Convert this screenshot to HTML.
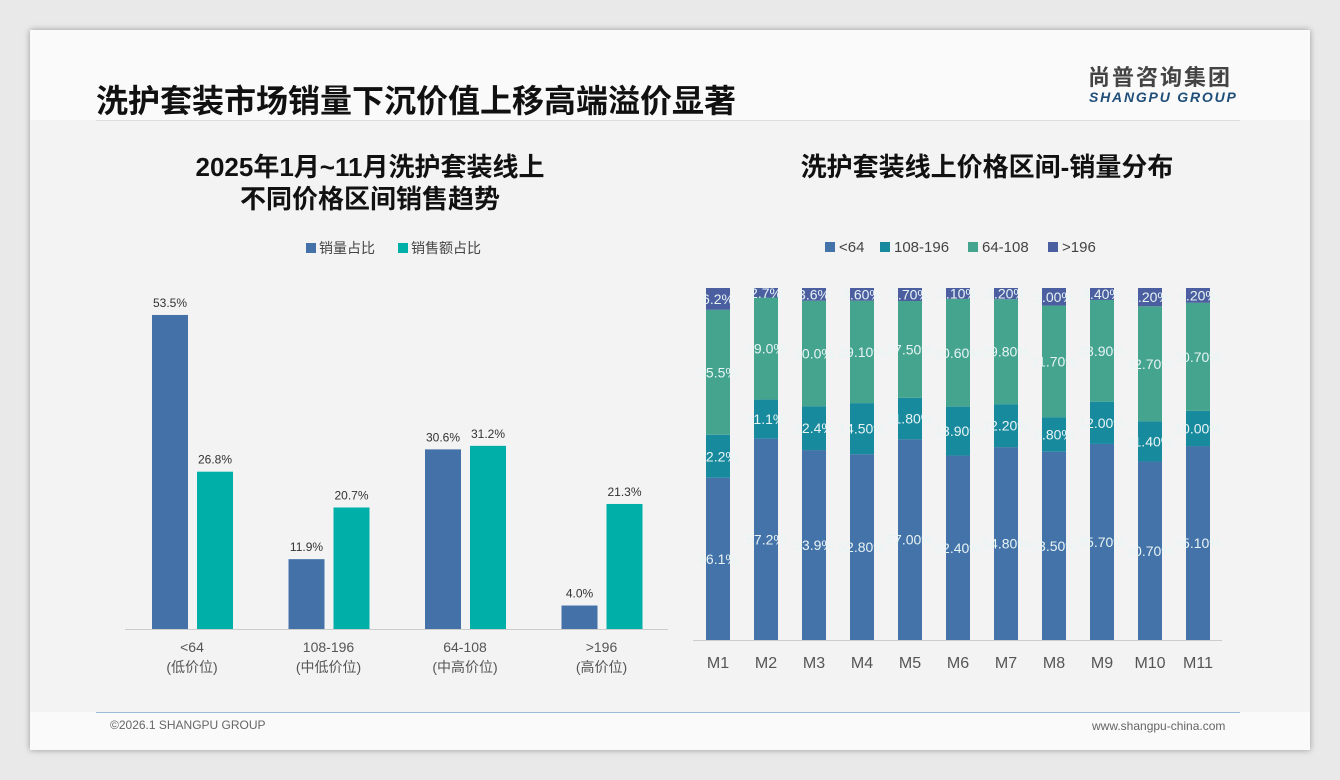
<!DOCTYPE html>
<html><head><meta charset="utf-8">
<style>
body{margin:0;width:1340px;height:780px;background:#e9e9e9;font-family:"Liberation Sans","Noto Sans CJK SC",sans-serif;position:relative;overflow:hidden}
.slide{position:absolute;left:30px;top:30px;width:1280px;height:720px;background:#fafafa;box-shadow:0 0 6px rgba(0,0,0,.35)}
.abs{position:absolute}
</style></head><body>
<div class="slide">
 <div class="abs" style="left:0;top:90px;width:1280px;height:592px;background:#f3f3f3"></div>
 <div class="abs" style="left:66px;top:46px;font-size:32px;font-weight:bold;color:#111">洗护套装市场销量下沉价值上移高端溢价显著</div>
 <div class="abs" style="left:66px;top:90px;width:1144px;height:1px;background:#ddd"></div>
 <div class="abs" style="left:1058px;top:30px;font-size:22px;font-weight:bold;color:#444;letter-spacing:2px">尚普咨询集团</div>
 <div class="abs" style="left:1059px;top:59px;font-size:14px;font-weight:bold;font-style:italic;color:#1f4e79;letter-spacing:1.8px">SHANGPU GROUP</div>
 <div class="abs" style="left:66px;top:682px;width:1144px;height:1px;background:#9bbad6"></div>
 <div class="abs" style="left:80px;top:688px;font-size:12px;color:#666">©2026.1 SHANGPU GROUP</div>
 <div class="abs" style="left:1062px;top:689px;font-size:12px;color:#666">www.shangpu-china.com</div>
</div>
<svg id="c" class="abs" style="left:0;top:0" width="1340" height="780"></svg>
<script>
const leftCats=["<64","108-196","64-108",">196"];
const leftSub=["(低价位)","(中低价位)","(中高价位)","(高价位)"];
const volShare=[53.5,11.9,30.6,4.0];
const salesShare=[26.8,20.7,31.2,21.3];
const months=["M1","M2","M3","M4","M5","M6","M7","M8","M9","M10","M11"];
const sLow=[46.1,57.2,53.9,52.8,57.0,52.4,54.8,53.5,55.7,50.7,55.1];
const sMidLow=[12.2,11.1,12.4,14.5,11.8,13.9,12.2,9.8,12.0,11.4,10.0];
const sMidHigh=[35.5,29.0,30.0,29.1,27.5,30.6,29.8,31.7,28.9,32.7,30.7];
const sHigh=[6.2,2.7,3.6,3.6,3.7,3.1,3.2,5.0,3.4,5.2,4.2];
const stackLabels=[["46.1%","57.2%","53.9%","52.80%","57.00%","52.40%","54.80%","53.50%","55.70%","50.70%","55.10%"],["12.2%","11.1%","12.4%","14.50%","11.80%","13.90%","12.20%","9.80%","12.00%","11.40%","10.00%"],["35.5%","29.0%","30.0%","29.10%","27.50%","30.60%","29.80%","31.70%","28.90%","32.70%","30.70%"],["6.2%","2.7%","3.6%","3.60%","3.70%","3.10%","3.20%","5.00%","3.40%","5.20%","4.20%"]];
const svg=document.getElementById('c');const NS="http://www.w3.org/2000/svg";
function el(t,a,txt){const e=document.createElementNS(NS,t);for(const k in a)e.setAttribute(k,a[k]);if(txt!=null)e.textContent=txt;svg.appendChild(e);return e;}
function tx(x,y,s,size,fill,anchor,w,name){const e=el('text',{x:x,y:y,'font-size':size,fill:fill,'text-anchor':anchor||'middle','font-weight':w||'normal','font-family':'Liberation Sans, Noto Sans CJK SC, sans-serif'},s);

return e;}
// left chart
tx(370,176,"2025年1月~11月洗护套装线上",26,"#111","middle","bold","left-chart-title-1");
tx(370,208,"不同价格区间销售趋势",26,"#111","middle","bold","left-chart-title-2");
let r=el('rect',{x:306,y:243,width:10,height:10,fill:'#4472a8'});
tx(319,253,"销量占比",14,"#444","start",null,"legend-volume");
r=el('rect',{x:398,y:243,width:10,height:10,fill:'#00b0a8'});
tx(411,253,"销售额占比",14,"#444","start",null,"legend-sales");
const base=629,ppu=5.87;
const ly=v=>base-v*ppu;
const gx=i=>192+i*136.5;
let ax=el('line',{x1:125,x2:668,y1:base+.5,y2:base+.5,stroke:'#ccc'});
leftCats.forEach((c,i)=>{
 const x=gx(i);
 let b=el('rect',{x:x-40,y:ly(volShare[i]),width:36,height:base-ly(volShare[i]),fill:'#4472a8'});
 
 b=el('rect',{x:x+5,y:ly(salesShare[i]),width:36,height:base-ly(salesShare[i]),fill:'#00b0a8'});
 
 tx(x-22,ly(volShare[i])-8,volShare[i].toFixed(1)+"%",12,"#333","middle",null,"label-volume-"+i);
 tx(x+23,ly(salesShare[i])-8,salesShare[i].toFixed(1)+"%",12,"#333","middle",null,"label-sales-"+i);
 tx(x,652,c,14,"#555","middle",null,"x-label-"+i);
 tx(x,672,leftSub[i],14,"#555","middle",null,"x-sublabel-"+i);
});
// right chart
tx(987,176,"洗护套装线上价格区间-销量分布",26,"#111","middle","bold","right-chart-title");
const series=[sLow,sMidLow,sMidHigh,sHigh];
const colors=['#4373a8','#188a9e','#45a48e','#4b5fa0'];
const names=['<64','108-196','64-108','>196'];
const lgx=[825,880,968,1048];
names.forEach((n,i)=>{let s=el('rect',{x:lgx[i],y:242,width:10,height:10,fill:colors[i]});
 tx(lgx[i]+14,252,n,15,"#444","start",null,"legend-entry-"+i);});
const rb=640,rtop=288,H=rb-rtop;
const mx=i=>718+i*48;
ax=el('line',{x1:693,x2:1222,y1:rb+.5,y2:rb+.5,stroke:'#ccc'});
months.forEach((m,i)=>{
 let tot=0;series.forEach(s=>tot+=s[i]);
 let acc=0;
 series.forEach((s,k)=>{
  const y0=rb-acc/tot*H;acc+=s[i];const y1=rb-acc/tot*H;
  const b=el('rect',{x:mx(i)-12,y:y1,width:24,height:y0-y1,fill:colors[k]});
  
  tx(mx(i),(y0+y1)/2+5,stackLabels[k][i],14,"#e8f4f4","middle",null,"stack-label-"+m+"-"+k);
 });
 tx(mx(i),668,m,16,"#555","middle",null,"month-label-"+m);
});
</script>
</body></html>
